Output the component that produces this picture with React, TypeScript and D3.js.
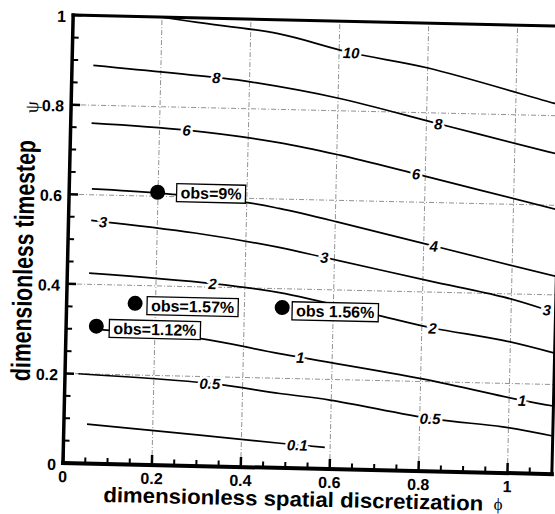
import * as d3 from "d3";

const WIDTH = 555;
const HEIGHT = 514;
const FRAME = { left: 63, right: 552, top: 15, bottom: 463 };
const TILT = 1.3; // the scanned figure sits slightly rotated
const SANS = "'Liberation Sans', Arial, Helvetica, sans-serif";
const SERIF = "'Liberation Serif', 'DejaVu Serif', serif";

const xTicks = [0, 0.2, 0.4, 0.6, 0.8, 1];
const yTicks = [0, 0.2, 0.4, 0.6, 0.8, 1];
const xGrid = [0.2, 0.4, 0.6, 0.8, 1];
const yGrid = [0.2, 0.4, 0.6, 0.8];

// contour lines as [phi, psi]
const c01 = [[0.052, 0.088], [0.306, 0.069], [0.487, 0.055], [0.588, 0.048]];
const c05 = [[0.03, 0.2], [0.326, 0.185], [0.484, 0.166], [0.597, 0.154], [0.829, 0.117], [0.987, 0.103], [1.1, 0.085]];
const c1 = [[0.068, 0.3], [0.3, 0.285], [0.481, 0.255], [0.804, 0.206], [1.029, 0.163], [1.1, 0.152]];
const c2 = [[0.049, 0.425], [0.327, 0.408], [0.478, 0.391], [0.704, 0.345], [0.824, 0.32], [0.983, 0.296], [1.1, 0.27]];
const c3 = [[0.051, 0.543], [0.285, 0.52], [0.475, 0.492], [0.577, 0.472], [0.814, 0.425], [0.981, 0.393], [1.08, 0.366]];
const c4 = [[0.051, 0.613], [0.202, 0.607], [0.398, 0.591], [0.473, 0.579], [0.604, 0.552], [0.823, 0.503], [1.1, 0.441]];
const c6 = [[0.047, 0.76], [0.261, 0.749], [0.469, 0.726], [0.607, 0.701], [0.779, 0.663], [1.1, 0.59]];
const c8 = [[0.048, 0.889], [0.325, 0.868], [0.402, 0.86], [0.601, 0.828], [0.827, 0.776], [1.076, 0.719], [1.1, 0.714]];
const c10 = [[0.2, 1.0], [0.28, 0.99], [0.462, 0.969], [0.627, 0.93], [0.801, 0.9], [1.085, 0.828], [1.1, 0.825]];

const contourLevels = ["0.1", "0.5", "1", "2", "3", "4", "6", "8", "10"];
const contourLines = [c01, c05, c1, c2, c3, c4, c6, c8, c10];
const contourLabelPhi = [[0.526], [0.326, 0.823], [0.528, 1.029], [0.327, 0.824], [0.078, 0.577, 1.08], [0.823], [0.261, 0.779], [0.325, 0.827], [0.627]];

// observed points
const obsText = ["obs=9%", "obs=1.57%", "obs=1.12%", "obs 1.56%"];
const obsPhi = [0.199, 0.154, 0.068, 0.485];
const obsPsi = [0.609, 0.36, 0.307, 0.358];
const obsLabelDx = [19, 12, 13, 10];
const obsLabelDy = [0, 2, 2, 3];

const CHAR_W: Record<string, number> = { o: 0.611, b: 0.611, s: 0.556, "=": 0.584, " ": 0.278, ".": 0.278, "%": 0.889 };
function textWidth(s: string, size: number) {
  return s.split("").reduce((w, ch) => w + (CHAR_W[ch] ?? 0.556), 0) * size;
}

function psiAt(pts: number[][], phi: number) {
  for (let i = 1; i < pts.length; i++) {
    if (phi <= pts[i][0]) {
      const [x0, y0] = pts[i - 1];
      const [x1, y1] = pts[i];
      return y0 + ((phi - x0) / (x1 - x0)) * (y1 - y0);
    }
  }
  return pts[pts.length - 1][1];
}

const fmt = (v: number) => (v === 0 || v === 1 ? String(v) : v.toFixed(1));

export default function App() {
  const x = d3.scaleLinear().domain([0, 1.1]).range([FRAME.left, FRAME.right]);
  const y = d3.scaleLinear().domain([0, 1]).range([FRAME.bottom, FRAME.top]);

  const line = d3
    .line<number[]>()
    .x((d) => x(d[0]))
    .y((d) => y(d[1]))
    .curve(d3.curveCatmullRom.alpha(0.5));

  const minorX = d3.range(0, 1.1001, 0.05).filter((v) => Math.abs(v / 0.2 - Math.round(v / 0.2)) > 1e-6);
  const minorY = d3.range(0, 1.0001, 0.05).filter((v) => Math.abs(v / 0.2 - Math.round(v / 0.2)) > 1e-6);

  return (
    <svg
      width={WIDTH}
      height={HEIGHT}
      viewBox={`0 0 ${WIDTH} ${HEIGHT}`}
      style={{ position: "absolute", left: 0, top: 0, background: "#fff" }}
    >
      <defs>
        <clipPath id="plot-clip">
          <rect x={FRAME.left} y={FRAME.top} width={FRAME.right - FRAME.left} height={FRAME.bottom - FRAME.top} />
        </clipPath>
      </defs>
      <rect width={WIDTH} height={HEIGHT} fill="#fff" />
      <g transform={`rotate(${TILT} ${FRAME.left} ${FRAME.bottom})`}>
        {/* grid */}
        {xGrid.map((t) => (
          <line key={`gx-${t}`} x1={x(t)} x2={x(t)} y1={FRAME.bottom} y2={FRAME.top} stroke="#777" strokeWidth={0.8} strokeDasharray="5 2 1 2" />
        ))}
        {yGrid.map((t) => (
          <line key={`gy-${t}`} x1={FRAME.left} x2={FRAME.right} y1={y(t)} y2={y(t)} stroke="#777" strokeWidth={0.8} strokeDasharray="5 2 1 2" />
        ))}

        {/* contours */}
        <g clipPath="url(#plot-clip)">
          {contourLines.map((pts, i) => (
            <path key={`c-${contourLevels[i]}`} d={line(pts as number[][]) || ""} fill="none" stroke="#000" strokeWidth={1.7} />
          ))}
        </g>
        {contourLines.map((pts, i) =>
          contourLabelPhi[i].map((phi) => (
            <text
              key={`cl-${contourLevels[i]}-${phi}`}
              x={x(phi)}
              y={y(psiAt(pts as number[][], phi))}
              textAnchor="middle"
              dominantBaseline="central"
              fontFamily={SANS}
              fontWeight="bold"
              fontStyle="italic"
              fontSize={15}
              fill="#000"
              stroke="#fff"
              strokeWidth={5}
              paintOrder="stroke"
            >
              {contourLevels[i]}
            </text>
          )),
        )}

        {/* observations */}
        {obsText.map((label, i) => {
          const cx = x(obsPhi[i]);
          const cy = y(obsPsi[i]);
          const w = textWidth(label, 16) + 8;
          const bx = cx + obsLabelDx[i];
          const by = cy + obsLabelDy[i];
          return (
            <g key={`obs-${i}`}>
              <circle cx={cx} cy={cy} r={7.5} fill="#000" />
              <rect x={bx} y={by - 9} width={w} height={18} fill="#fff" stroke="#000" strokeWidth={1.3} />
              <text x={bx + 4} y={by} dominantBaseline="central" fontFamily={SANS} fontWeight="bold" fontSize={16} fill="#000">
                {label}
              </text>
            </g>
          );
        })}

        {/* ticks */}
        {xTicks.map((t) => (
          <line key={`tx-${t}`} x1={x(t)} x2={x(t)} y1={FRAME.bottom} y2={FRAME.bottom - 10} stroke="#000" strokeWidth={2.5} />
        ))}
        {minorX.map((t) => (
          <line key={`mx-${t}`} x1={x(t)} x2={x(t)} y1={FRAME.bottom} y2={FRAME.bottom - 6} stroke="#000" strokeWidth={2} />
        ))}
        {yTicks.map((t) => (
          <line key={`ty-${t}`} x1={FRAME.left} x2={FRAME.left + 9} y1={y(t)} y2={y(t)} stroke="#000" strokeWidth={2.5} />
        ))}
        {minorY.map((t) => (
          <line key={`my-${t}`} x1={FRAME.left} x2={FRAME.left + 6} y1={y(t)} y2={y(t)} stroke="#000" strokeWidth={2} />
        ))}

        {/* frame */}
        <line x1={FRAME.left} x2={FRAME.right} y1={FRAME.bottom} y2={FRAME.bottom} stroke="#000" strokeWidth={4} strokeLinecap="square" />
        <line x1={FRAME.left} x2={FRAME.left} y1={FRAME.bottom} y2={FRAME.top} stroke="#000" strokeWidth={3.5} strokeLinecap="square" />
        <line x1={FRAME.left} x2={FRAME.right} y1={FRAME.top} y2={FRAME.top} stroke="#000" strokeWidth={3} strokeLinecap="square" />
        <line x1={FRAME.right} x2={FRAME.right} y1={FRAME.bottom} y2={FRAME.top} stroke="#000" strokeWidth={3} strokeLinecap="square" />

        {/* tick labels */}
        {xTicks.map((t) => (
          <text key={`lx-${t}`} x={x(t)} y={FRAME.bottom + 19} textAnchor="middle" fontFamily={SANS} fontWeight="bold" fontSize={16} fill="#000">
            {fmt(t)}
          </text>
        ))}
        {yTicks.map((t) => (
          <text key={`ly-${t}`} x={FRAME.left - 7} y={y(t) + 1.5} textAnchor="end" dominantBaseline="central" fontFamily={SANS} fontWeight="bold" fontSize={16} fill="#000">
            {fmt(t)}
          </text>
        ))}

        {/* axis titles */}
        <text x={294} y={501} textAnchor="middle" fontFamily={SANS} fontWeight="bold" fontSize={21} textLength={380} lengthAdjust="spacingAndGlyphs" fill="#000">
          dimensionless spatial discretization
        </text>
        <text x={499} y={500} textAnchor="middle" fontFamily={SERIF} fontSize={17} fill="#000">
          ϕ
        </text>
        <text transform="translate(28 261.5) rotate(-90) scale(1 1.3)" textAnchor="middle" fontFamily={SANS} fontWeight="bold" fontSize={21} textLength={241} lengthAdjust="spacingAndGlyphs" fill="#000">
          dimensionless timestep
        </text>
        <text transform="translate(30 108) rotate(-90)" textAnchor="middle" fontFamily={SERIF} fontSize={19} fill="#000">
          ψ
        </text>
      </g>
    </svg>
  );
}
